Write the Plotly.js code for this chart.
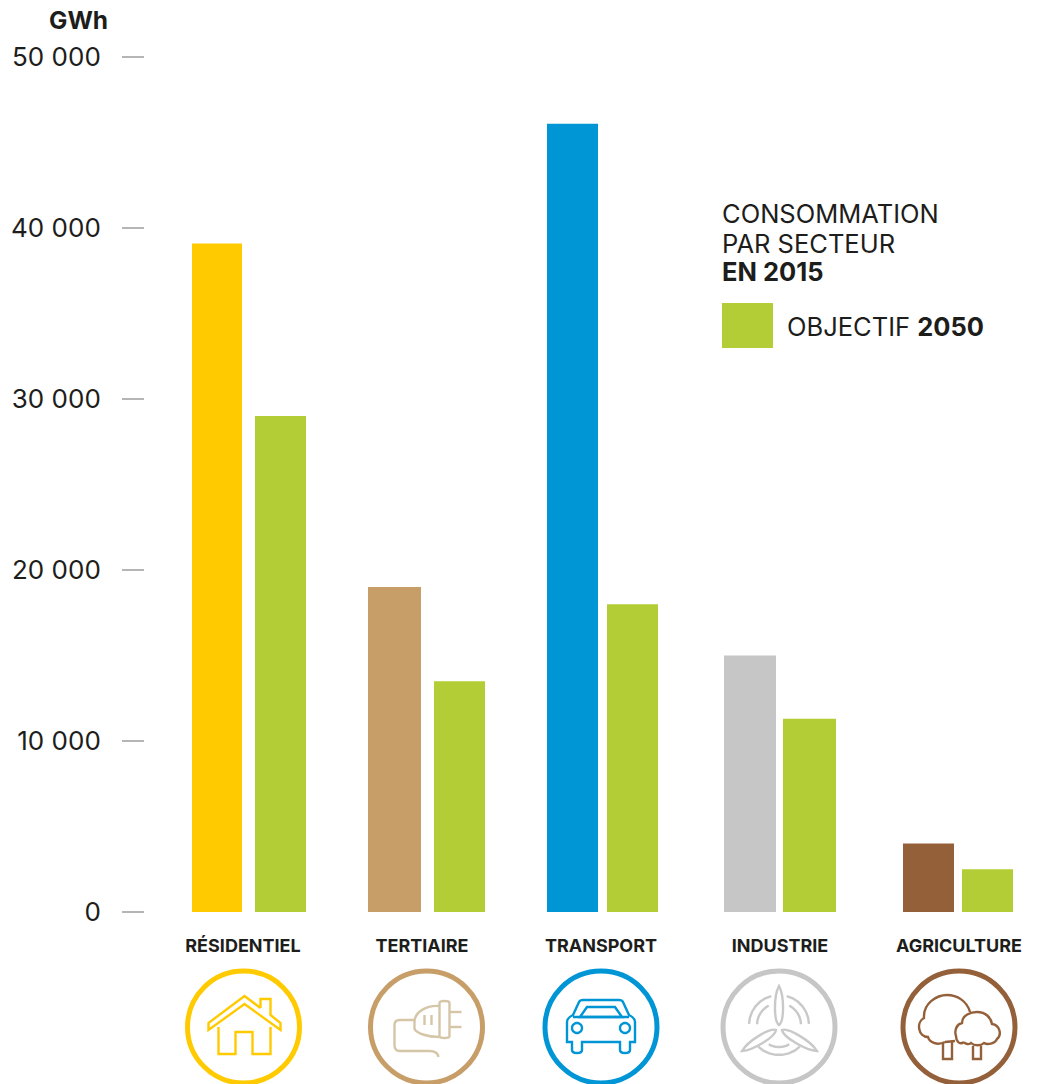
<!DOCTYPE html>
<html><head><meta charset="utf-8">
<script src="https://cdn.plot.ly/plotly-3.0.1.min.js"></script>
<style>html,body{margin:0;padding:0;background:#fff;overflow:hidden}#c{width:1037px;height:1084px}</style>
</head><body><div id="c"></div>
<script>
// ---- data ----
const categories = ['RÉSIDENTIEL','TERTIAIRE','TRANSPORT','INDUSTRIE','AGRICULTURE'];
const conso2015 = [39100,19000,46100,15000,4000];
const objectif2050 = [29000,13500,18000,11300,2500];
const colors2015 = ['#ffcb00','#c79e68','#0096d6','#c6c6c6','#94603a'];
const colorObjectif = '#b2cd35';
const yTickVals = [0,10000,20000,30000,40000,50000];
const yTickText = ['0','10 000','20 000','30 000','40 000','50 000'];
const textColor = '#1d1d1b';
const FONT = 'Inter, "Open Sans", sans-serif';

// ---- layout metrics (pixels) ----
const W=1037,H=1084,L=145,T=57,B=172,UNIT=179,C0=243;
const iconCx=[243.5,426.5,601,779,959], iconCy=1027;
const leftEdges=[192,368,547,724,903], rightEdges=[255,434,607,783,962];
const leftW=[50,53,51,52,51], rightW=[51,51,51,53,51];
const offs=(e)=>e.map((v,i)=>(v-(C0+i*UNIT))/UNIT);
const wid=(w)=>w.map(v=>v/UNIT);
const px=x=>(x-L)/(W-L), py=y=>1-(y-T)/(H-T-B);

// ---- icon helpers: paths are written y-down, relative to the icon centre ----
function flip(p){let i=0;return p.replace(/-?\d+(\.\d+)?/g,m=>(i++%2)?String(-parseFloat(m)):m);}
function ring(cx,cy,r,a0=0,a1=360,close=true){let s='';const n=Math.max(6,Math.round(Math.abs(a1-a0)/12));
  for(let i=0;i<=n;i++){const a=(a0+(a1-a0)*i/n)*Math.PI/180;
    s+=(i?'L':'M')+(cx+r*Math.cos(a)).toFixed(2)+' '+(cy+r*Math.sin(a)).toFixed(2)+' ';}
  return s+(close?'Z':'');}
function blade(x0,y0,x1,y1,w){const dx=x1-x0,dy=y1-y0,l=Math.hypot(dx,dy),nx=-dy/l*w*1.35,ny=dx/l*w*1.35;
  const f=(v)=>v.toFixed(2);
  const a=[x0+dx*0.1,y0+dy*0.1],b=[x0+dx*0.75,y0+dy*0.75];
  return `M${f(x0)} ${f(y0)} C${f(a[0]+nx)} ${f(a[1]+ny)} ${f(b[0]+nx)} ${f(b[1]+ny)} ${f(x1)} ${f(y1)} C${f(b[0]-nx)} ${f(b[1]-ny)} ${f(a[0]-nx)} ${f(a[1]-ny)} ${f(x0)} ${f(y0)} Z`;}
const carWheels='L34 15 L29 15 L29 23 Q29 26 24 26 Q19 26 19 23 L19 15 L-19 15 L-19 23 Q-19 26 -24 26 Q-29 26 -29 23 L-29 15 L-34 15 Z';
const iconPaths=[
 ['M17 -19 L17 -28 L27 -28 L27 -12 L37 -4 L37 3 L1 -23 L-35 3 L-35 -4 L1 -31 L17 -19',
  'M-25 0 L-25 27 L-8 27 L-8 5 L9 5 L9 27 L27 27 L27 0'],
 ['M13 -21 C0 -22 -12 -15 -12 -5 L-12 2 C-10 6 0 10 13 10',
  'M13 -24 Q13 -26 18 -26 Q23 -26 23 -24 L23 9 Q23 11 18 11 Q13 11 13 9 Z',
  'M23 -15 L35 -15','M23 0 L35 0','M-2 -12 L-2 -2','M5 -12 L5 -2',
  'M-12 -7 L-27 -7 Q-32 -7 -32 -2 L-32 18 Q-32 24 -27 24 L3 24 Q11 24 12 30'],
 ['M-34 15 L-34 -5 Q-34 -9 -28 -12 L-22 -25 Q-21 -27 -18 -27 L18 -27 Q21 -27 22 -25 L28 -12 Q34 -9 34 -5 '+carWheels,
  'M-21 -10 L-14 -20 L14 -20 L21 -10 Z','M-28 -10 L28 -10',ring(-24,1,5),ring(24,1,5)],
 [blade(0,-2,0,-41,4),blade(-3,3,-37,24,4),blade(3,3,38,24,4),
  ring(0,-2,30,-178,-105,false),ring(0,-2,30,-75,-2,false),ring(0,-2,30,46,134,false),
  ring(0,-2,22,-178,-118,false),ring(0,-2,22,-62,-2,false),ring(0,-2,22,62,118,false)],
 ['M-14 15 C-22 19 -30 15 -31 10 C-41 10 -43 -5 -35 -9 C-36 -24 -22 -32 -12 -32 C-2 -32 8 -26 11 -15',
  'M-14 15 L-4 14',
  'M5 15 C0 19 -3 13 -3 9 C-5 3 -2 -3 3 -4 C3 -12 12 -15 18 -15 C27 -15 32 -9 33 -3 C41 -2 43 8 38 12 C36 17 28 18 25 16 C22 19 15 19 12 16 C10 18 6 17 5 15',
  'M-16 15 L-16 32 L-7 32 L-7 15','M14 19 L14 32 L22 32 L22 19']
];
const iconColors=['#ffcb00','#d6c6a8','#0096d6','#c9c9c9','#94603a'];
const shapes=[];
iconPaths.forEach((paths,i)=>{
  const base={xref:'paper',yref:'paper',xsizemode:'pixel',ysizemode:'pixel',xanchor:px(iconCx[i]),yanchor:py(iconCy),layer:'above'};
  shapes.push({...base,type:'circle',x0:-56,x1:56,y0:-56,y1:56,line:{color:colors2015[i],width:5},fillcolor:'rgba(0,0,0,0)'});
  paths.forEach(p=>shapes.push({...base,type:'path',path:flip(p),line:{color:iconColors[i],width:2.4},fillcolor:'rgba(0,0,0,0)'}));
});
// legend swatch
shapes.push({type:'rect',xref:'paper',yref:'paper',x0:px(722),x1:px(773),y0:py(348),y1:py(303),fillcolor:colorObjectif,line:{width:0}});

const note=(x,y,text,size,anchor='left')=>({xref:'paper',yref:'paper',x:px(x),y:py(y),text,showarrow:false,xanchor:anchor,yanchor:'middle',align:'left',font:{family:FONT,size,color:textColor},borderpad:0,xshift:0});
const annotations=[
  note(109,20,'<b>GWh</b>',24.5,'right'),
  note(721,213,'CONSOMMATION',25.5),
  note(721,243,'PAR SECTEUR',25.5),
  note(721,271,'<b>EN 2015</b>',25.5),
  note(786,326,'OBJECTIF <b>2050</b>',25.5)
];

const traces=[
 {type:'bar',name:'Consommation en 2015',x:categories,y:conso2015,marker:{color:colors2015,line:{width:0}},width:wid(leftW),offset:offs(leftEdges)},
 {type:'bar',name:'Objectif 2050',x:categories,y:objectif2050,marker:{color:colorObjectif,line:{width:0}},width:wid(rightW),offset:offs(rightEdges)}
];
const layout={
 width:W,height:H,showlegend:false,barmode:'overlay',paper_bgcolor:'#fff',plot_bgcolor:'#fff',
 margin:{l:L,r:0,t:T,b:B,pad:0},font:{family:FONT,color:textColor},
 xaxis:{type:'category',range:[-(C0-L)/UNIT,(W-C0)/UNIT],showgrid:false,zeroline:false,showline:false,ticks:'',ticklabelstandoff:21,
        tickfont:{family:FONT,size:18,weight:700,color:textColor},tickangle:0},
 yaxis:{range:[0,50000],tickmode:'array',tickvals:yTickVals,ticktext:yTickText,showgrid:false,zeroline:false,showline:false,
        ticks:'outside',ticklen:22,tickwidth:1.5,tickcolor:'#b5b5b5',ticklabelstandoff:16,tickfont:{family:FONT,size:26,color:textColor}},
 shapes,annotations
};
Plotly.newPlot('c',traces,layout,{displayModeBar:false,staticPlot:true});
</script></body></html>
